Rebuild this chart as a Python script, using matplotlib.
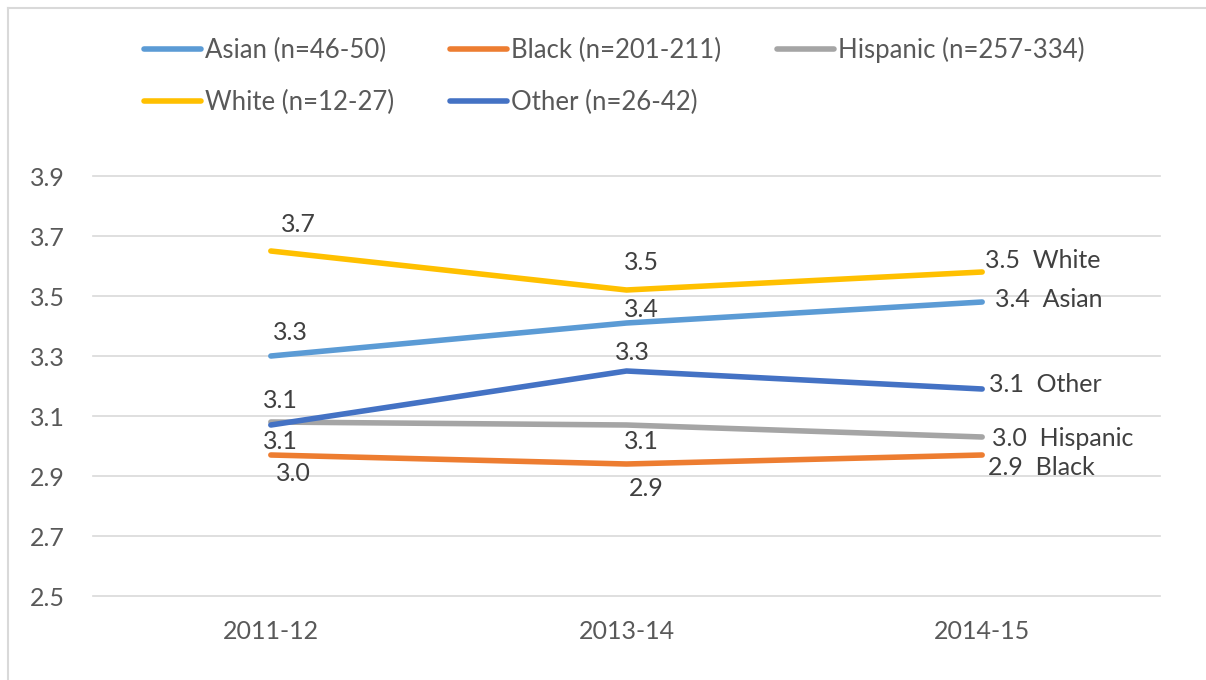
import matplotlib.pyplot as plt
from matplotlib.lines import Line2D

plt.rcParams['font.family'] = ['Lato', 'DejaVu Sans']

years = ["2011-12", "2013-14", "2014-15"]
groups = ["Asian", "Black", "Hispanic", "White", "Other"]
legend_names = ["Asian (n=46-50)", "Black (n=201-211)", "Hispanic (n=257-334)",
                "White (n=12-27)", "Other (n=26-42)"]

asian = [3.30, 3.41, 3.48]
black = [2.97, 2.94, 2.97]
hispanic = [3.08, 3.07, 3.03]
white = [3.65, 3.52, 3.58]
other = [3.07, 3.25, 3.19]

# labels as printed on the chart
asian_lbl = ["3.3", "3.4", "3.4"]
black_lbl = ["3.0", "2.9", "2.9"]
hispanic_lbl = ["3.1", "3.1", "3.0"]
white_lbl = ["3.7", "3.5", "3.5"]
other_lbl = ["3.1", "3.3", "3.1"]

values = [asian, black, hispanic, white, other]
labels = [asian_lbl, black_lbl, hispanic_lbl, white_lbl, other_lbl]
colors = ["#5B9BD5", "#ED7D31", "#A5A5A5", "#FFC000", "#4472C4"]

# label offsets in points (dx, dy) for each group / year
offsets = [
    [(14, 17), (11, 10), (9, 2)],
    [(16, -13), (14, -18), (4, -9)],
    [(7, -14), (11, -12), (7, -1)],
    [(20, 19), (11, 20), (2, 8)],
    [(7, 18), (4, 13), (5, 3)],
]

W, H = 1206, 680
fig = plt.figure(figsize=(W / 100, H / 100), dpi=100)
ax = fig.add_axes([93 / W, 1 - 596 / H, (1160 - 93) / W, (596 - 176) / H])

x = range(len(years))
handles = []
for i, g in enumerate(groups):
    ln, = ax.plot(x, values[i], color=colors[i], lw=4, solid_capstyle='round',
                  zorder=3)
    handles.append(ln)
    for j in x:
        txt = labels[i][j]
        ha = 'center'
        if j == len(years) - 1:
            txt = txt + "  " + g
            ha = 'left'
        ax.annotate(txt, (j, values[i][j]), xytext=offsets[i][j],
                    textcoords='offset points', ha=ha, va='center',
                    fontsize=18, color='#404040', zorder=4)

ax.set_xlim(-0.5, 2.5)
ax.set_ylim(2.5, 3.9)
ax.set_yticks([2.5, 2.7, 2.9, 3.1, 3.3, 3.5, 3.7, 3.9])
ax.set_yticklabels(["2.5", "2.7", "2.9", "3.1", "3.3", "3.5", "3.7", "3.9"])
ax.set_xticks(list(x))
ax.set_xticklabels(years)
ax.tick_params(length=0, labelsize=18, labelcolor='#595959')
ax.tick_params(axis='y', pad=20)
ax.tick_params(axis='x', pad=17)
ax.grid(axis='y', color='#D9D9D9', lw=1.2)
for gl in ax.get_ygridlines():
    gl.set_clip_on(False)
ax.set_axisbelow(True)
for s in ax.spines.values():
    s.set_visible(False)

# legend rows: Asian, Black, Hispanic / White, Other
order = [0, 3, 1, 4, 2]
fig.legend([handles[k] for k in order], [legend_names[k] for k in order],
           ncol=3, loc='upper left', bbox_to_anchor=(134 / W, 1 - 27 / H),
           frameon=False, fontsize=18.5, labelcolor='#595959',
           handlelength=2.2, handletextpad=0.15, columnspacing=2.2,
           labelspacing=1.05, borderaxespad=0)

# chart border
fig.add_artist(Line2D([8 / W, 8 / W], [0, 1 - 8 / H], color='#D9D9D9', lw=1.5))
fig.add_artist(Line2D([8 / W, 1], [1 - 8 / H, 1 - 8 / H], color='#D9D9D9', lw=1.5))

fig.savefig("out.png", dpi=100)
